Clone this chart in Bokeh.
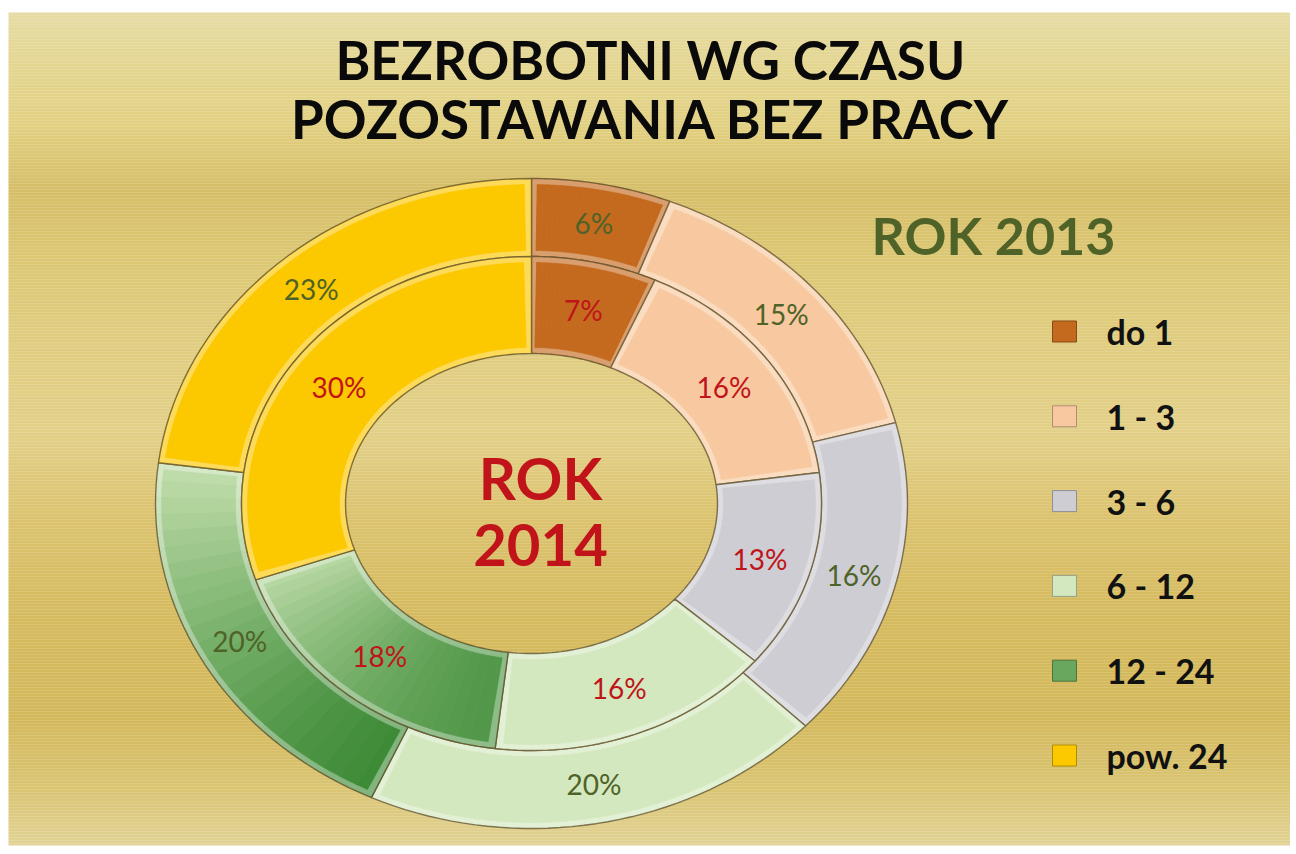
import numpy as np
from bokeh.plotting import figure
from bokeh.models import Range1d
from bokeh.core.properties import value
from bokeh.embed import file_html
from bokeh.resources import INLINE

# ---------------- data ----------------
categories = ["do 1", "1 - 3", "3 - 6", "6 - 12", "12 - 24", "pow. 24"]
values_2013 = [6, 15, 16, 20, 20, 23]   # outer ring
values_2014 = [7, 16, 13, 16, 18, 30]   # inner ring
title_lines = ["BEZROBOTNI WG CZASU", "POZOSTAWANIA BEZ PRACY"]
outer_title = "ROK 2013"
inner_title = ["ROK", "2014"]

# ---------------- style ----------------
base_colors = ["#C46A1E", "#F8C9A0", "#CDCDD3", "#D3E8BE", "#5FA548", "#FCC800"]
grad_colors = {4: ("#C4E0AE", "#2C8028")}   # 12 - 24 : light top -> dark bottom
col_2013 = "#4F6228"
col_2014 = "#C0141A"
FONT = "Lato"

W, H = 1290, 848
p = figure(width=W, height=H, output_backend="svg", toolbar_location=None,
           x_range=Range1d(0, W), y_range=Range1d(H, 0),
           min_border=0, border_fill_color="white", outline_line_color=None)
p.axis.visible = False
p.grid.visible = False
p.background_fill_color = "white"


def hex2rgb(h):
    h = h.lstrip("#")
    return np.array([int(h[i:i + 2], 16) for i in (0, 2, 4)], dtype=float)


def rgb2hex(c):
    c = np.clip(np.round(c), 0, 255).astype(int)
    return "#%02x%02x%02x" % tuple(c)


def mix(a, b, t):
    return rgb2hex(hex2rgb(a) * (1 - t) + hex2rgb(b) * t)


# ---------------- background gradient ----------------
stops_y = [12, 60, 120, 190, 260, 350, 430, 520, 620, 720, 790, 846]
stops_c = ["#E6DBA5", "#E4D692", "#E2D183", "#D6BE68", "#DCC774", "#E0CD80",
           "#E2D088", "#DBC26E", "#D5BA5E", "#D4B85C", "#DAC574", "#E2D396"]
stops_rgb = np.array([hex2rgb(c) for c in stops_c])
band_top = np.arange(12, 845, 3)
band_mid = band_top + 1.5
band_cols = [rgb2hex(np.array([np.interp(y, stops_y, stops_rgb[:, k]) for k in range(3)]))
             for y in band_mid]
p.quad(left=8, right=1290, top=band_top, bottom=np.minimum(band_top + 3.2, 845),
       fill_color=band_cols, line_color=None)

# ---------------- donut geometry ----------------
cx, cy = 531, 503
rings = {
    "outer": dict(vals=values_2013, rxi=290, ryi=247, rxo=376, ryo=325, lab=col_2013),
    "inner": dict(vals=values_2014, rxi=186, ryi=150, rxo=290, ryo=247, lab=col_2014),
}


def pt(frac, rx, ry):
    th = np.deg2rad(90 - 360 * np.asarray(frac))
    return cx + rx * np.cos(th), cy - ry * np.sin(th)


def seg(f0, f1, rxi, ryi, rxo, ryo, n=40):
    fs = np.linspace(f0, f1, n)
    xo, yo = pt(fs, rxo, ryo)
    xi, yi = pt(fs[::-1], rxi, ryi)
    return list(np.concatenate([xo, xi])), list(np.concatenate([yo, yi]))


for name, r in rings.items():
    vals = r["vals"]
    tot = float(sum(vals))
    cum = np.concatenate([[0], np.cumsum(vals)]) / tot
    rxi, ryi, rxo, ryo = r["rxi"], r["ryi"], r["rxo"], r["ryo"]
    rmean = (rxi + ryi + rxo + ryo) / 4
    d = 6
    for i in range(len(vals)):
        f0, f1 = cum[i], cum[i + 1]
        xs_full, ys_full = seg(f0, f1, rxi, ryi, rxo, ryo)
        ymin, ymax = min(ys_full), max(ys_full)
        npieces = 24
        edges = np.linspace(f0, f1, npieces + 1)
        rim_x, rim_y, rim_c, in_x, in_y, in_c = [], [], [], [], [], []
        df = d / (2 * np.pi * rmean)
        for k in range(npieces):
            a0, a1 = edges[k], edges[k + 1]
            xs, ys = seg(a0, a1, rxi, ryi, rxo, ryo, n=6)
            ym = np.mean(ys)
            if i in grad_colors:
                t = (ym - ymin) / max(ymax - ymin, 1)
                c = mix(grad_colors[i][0], grad_colors[i][1], t)
            else:
                c = base_colors[i]
            rim_x.append(xs); rim_y.append(ys); rim_c.append(mix(c, "#FFFFFF", 0.35))
            b0 = a0 + df if k == 0 else a0
            b1 = a1 - df if k == npieces - 1 else a1
            xs2, ys2 = seg(b0, b1, rxi + d, ryi + d, rxo - d, ryo - d, n=6)
            in_x.append(xs2); in_y.append(ys2); in_c.append(c)
        p.patches(rim_x, rim_y, fill_color=rim_c, line_color=rim_c, line_width=0.6)
        p.patches(in_x, in_y, fill_color=in_c, line_color=in_c, line_width=0.6)
        p.patch(xs_full, ys_full, fill_color=None, line_color="#5B4A22",
                line_alpha=0.75, line_width=1.4)
    # labels
    mids = (cum[:-1] + cum[1:]) / 2
    lx, ly = pt(mids, (rxi + rxo) / 2, (ryi + ryo) / 2)
    p.text(x=list(lx), y=list(ly), text=[f"{v}%" for v in vals],
           text_font=value(FONT), text_font_size="28px", text_color=r["lab"],
           text_align="center", text_baseline="middle")

# ---------------- titles ----------------
p.text(x=[650, 650], y=[59, 118], text=title_lines, text_font=value(FONT),
       text_font_style="bold", text_font_size="53px", text_color="#0A0A0A",
       text_align="center", text_baseline="middle")
p.text(x=[993], y=[234], text=[outer_title], text_font=value(FONT),
       text_font_style="bold", text_font_size="52px", text_color=col_2013,
       text_align="center", text_baseline="middle")
p.text(x=[540, 540], y=[477, 544], text=inner_title, text_font=value(FONT),
       text_font_style="bold", text_font_size="58px", text_color=col_2014,
       text_align="center", text_baseline="middle")

# ---------------- legend ----------------
ly0, dy = 331, 84.8
leg_y = [ly0 + k * dy for k in range(len(categories))]
leg_cols = [mix(grad_colors[k][0], grad_colors[k][1], 0.6) if k in grad_colors else base_colors[k]
            for k in range(len(categories))]
p.rect(x=[1064] * len(categories), y=leg_y, width=24, height=21,
       fill_color=leg_cols, line_color=[mix(c, "#000000", 0.3) for c in leg_cols], line_width=1)
p.text(x=[1106] * len(categories), y=leg_y, text=categories, text_font=value(FONT),
       text_font_style="bold", text_font_size="34px", text_color="#111111",
       text_align="left", text_baseline="middle")

open("out.html", "w").write(file_html(p, INLINE))
